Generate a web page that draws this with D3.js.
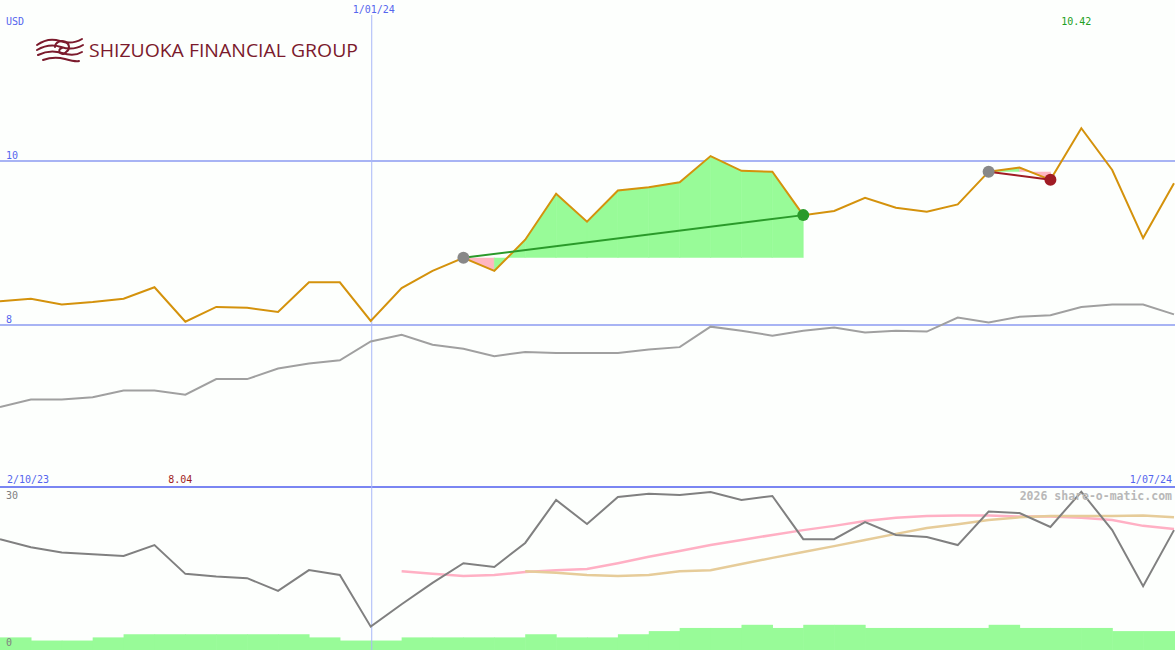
<!DOCTYPE html>
<html><head><meta charset="utf-8">
<script src="https://cdn.jsdelivr.net/npm/d3@7"></script>
<style>body{margin:0;background:#fdfffd;} svg{display:block;}</style>
</head><body><svg id="c" width="1175" height="650"></svg>
<script>
const dates = ["9/10/23","16/10/23","23/10/23","30/10/23","6/11/23","13/11/23","20/11/23","27/11/23","4/12/23","11/12/23","18/12/23","25/12/23","1/01/24","8/01/24","15/01/24","22/01/24","29/01/24","5/02/24","12/02/24","19/02/24","26/02/24","4/03/24","11/03/24","18/03/24","25/03/24","1/04/24","8/04/24","15/04/24","22/04/24","29/04/24","6/05/24","13/05/24","20/05/24","27/05/24","3/06/24","10/06/24","17/06/24","24/06/24","1/07/24"];
const price = [8.29,8.32,8.25,8.28,8.32,8.46,8.04,8.22,8.21,8.16,8.52,8.52,8.05,8.45,8.66,8.82,8.66,9.04,9.60,9.26,9.64,9.68,9.74,10.06,9.88,9.87,9.34,9.39,9.55,9.43,9.38,9.47,9.87,9.92,9.77,10.40,9.89,9.06,9.73];
const indexLine = [7.00,7.09,7.09,7.12,7.20,7.20,7.15,7.34,7.34,7.47,7.53,7.57,7.80,7.88,7.76,7.71,7.62,7.67,7.66,7.66,7.66,7.70,7.73,7.98,7.93,7.87,7.93,7.97,7.91,7.93,7.92,8.09,8.03,8.10,8.12,8.22,8.25,8.25,8.13];
const osc = [20.4,18.9,17.9,17.6,17.25,19.3,13.9,13.4,13.1,10.7,14.6,13.7,4.0,8.2,12.2,15.9,15.2,19.7,27.75,23.25,28.3,28.9,28.7,29.25,27.75,28.5,20.4,20.4,23.6,21.2,20.8,19.3,25.6,25.3,22.7,29.3,22.1,11.6,22.1];
const oscMaShort = [null,null,null,null,null,null,null,null,null,null,null,null,null,14.4,13.9,13.5,13.7,14.25,14.6,14.8,15.9,17.1,18.2,19.3,20.25,21.2,22.1,22.9,23.8,24.4,24.75,24.85,24.85,24.65,24.65,24.4,24.0,22.9,22.3];
const oscMaLong = [null,null,null,null,null,null,null,null,null,null,null,null,null,null,null,null,null,14.4,14.1,13.7,13.5,13.7,14.4,14.6,15.75,16.9,18.0,19.1,20.25,21.4,22.5,23.2,24.0,24.5,24.75,24.75,24.75,24.85,24.5];
const volume = [400,300,300,400,500,500,500,500,500,500,400,300,300,400,400,400,400,500,400,400,500,600,700,700,800,700,800,800,700,700,700,700,800,700,700,700,600,600,600];
const priceTicks = [10, 8];
const oscTicks = [30, 0];
const trades = [{start:"22/01/24", end:"8/04/24"}, {start:"20/05/24", end:"3/06/24"}];
const markerDate = "1/01/24";
const periodStart = "2/10/23", periodEnd = "1/07/24";
const minLabel = "8.04", maxLabel = "10.42";

const svg = d3.select("#c");
const W = 1175, H = 650;
svg.append("rect").attr("width",W).attr("height",H).attr("fill","#fdfffd");
const x = d3.scalePoint().domain(dates).range([0, 1174]);
const y = d3.scaleLinear().domain([8,10]).range([325,161]);
const yo = d3.scaleLinear().domain([0,30]).range([648,488]);
const yv = d3.scaleLinear().domain([0,1000]).range([650,618.5]);
const mono = "DejaVu Sans Mono, monospace";
const blue = "#5566ee";

// volume bars
const step = x.step();
svg.append("g").selectAll("rect").data(volume).join("rect")
  .attr("x",(d,i)=>x(dates[i])).attr("width",step+0.6)
  .attr("y",d=>yv(d)).attr("height",d=>yv(0)-yv(d)).attr("fill","#98fb98");

// grid
svg.append("g").selectAll("line").data(priceTicks).join("line")
  .attr("x1",0).attr("x2",W).attr("y1",d=>y(d)).attr("y2",d=>y(d))
  .attr("stroke","#a8b4f4").attr("stroke-width",2);
svg.append("line").attr("x1",0).attr("x2",W).attr("y1",487).attr("y2",487)
  .attr("stroke","#7a86f2").attr("stroke-width",2);
svg.append("line").attr("x1",x(markerDate)+1).attr("x2",x(markerDate)+1).attr("y1",15).attr("y2",H)
  .attr("stroke","#a8b8f8").attr("stroke-width",1);

// trade fills
trades.forEach(t=>{
  const s = dates.indexOf(t.start), e = dates.indexOf(t.end);
  const base = y(price[s]);
  for(let i=s;i<e;i++){
    const up = price[i+1] >= price[s];
    svg.append("path")
      .attr("d", d3.line()([[x(dates[i]),base],[x(dates[i]),y(price[i])],[x(dates[i+1]),y(price[i+1])],[x(dates[i+1]),base]]))
      .attr("fill", up ? "#98fb98" : "#ffb6c1").attr("stroke", up ? "#98fb98" : "#ffb6c1").attr("stroke-width",0.6);
  }
});

// index (gray) line
svg.append("path").datum(indexLine)
  .attr("d", d3.line().x((d,i)=>x(dates[i])).y(d=>y(d)))
  .attr("fill","none").attr("stroke","#a0a0a0").attr("stroke-width",2);

// price line
svg.append("path").datum(price)
  .attr("d", d3.line().x((d,i)=>x(dates[i])).y(d=>y(d)))
  .attr("fill","none").attr("stroke","#d4920c").attr("stroke-width",2);

// trade lines and markers
trades.forEach(t=>{
  const s = dates.indexOf(t.start), e = dates.indexOf(t.end);
  const gain = price[e] >= price[s];
  const col = gain ? "#2a9a2a" : "#a01c24";
  svg.append("line").attr("x1",x(t.start)).attr("y1",y(price[s])).attr("x2",x(t.end)).attr("y2",y(price[e]))
    .attr("stroke",col).attr("stroke-width",2);
  svg.append("circle").attr("cx",x(t.start)).attr("cy",y(price[s])).attr("r",6).attr("fill","#888888");
  svg.append("circle").attr("cx",x(t.end)).attr("cy",y(price[e])).attr("r",6).attr("fill",col);
});

// oscillator panel
const lo = d3.line().defined(d=>d!==null).x((d,i)=>x(dates[i])).y(d=>yo(d));
svg.append("path").datum(oscMaShort).attr("d",lo).attr("fill","none").attr("stroke","#ffb0c4").attr("stroke-width",2.5);
svg.append("path").datum(oscMaLong).attr("d",lo).attr("fill","none").attr("stroke","#e6cc99").attr("stroke-width",2.5);
svg.append("path").datum(osc).attr("d",lo).attr("fill","none").attr("stroke","#808080").attr("stroke-width",2);

// texts
function txt(s,xx,yy,col,anchor,size,weight){
  svg.append("text").attr("x",xx).attr("y",yy).text(s)
    .attr("fill",col).attr("font-family",mono).attr("font-size",size||10)
    .attr("text-anchor",anchor||"start").attr("font-weight",weight||"normal");
}
txt("USD",6,25,blue);
priceTicks.forEach(v=>txt(String(v),6,y(v)-2,blue));
txt(markerDate,x(markerDate)+3,13,blue,"middle");
txt(maxLabel,x(dates[price.indexOf(d3.max(price))])-5,25,"#22a022","middle");
txt(minLabel,x(dates[price.indexOf(d3.min(price))])-5,483,"#a01c1c","middle");
txt(periodStart,7,483,blue);
txt(periodEnd,1172,483,blue,"end");
oscTicks.forEach(v=>txt(String(v),6,v===0?646:499,"#808080"));
txt("2026 share-o-matic.com",1172,500,"#b8b8b8","end",11.5,"bold");

// logo
const maroon = "#7b1a2c";
const lg = svg.append("g").attr("fill","none").attr("stroke",maroon).attr("stroke-width",2).attr("stroke-linecap","round");
["M37,45 Q48,37 60,41 T82,39","M37,50 Q49,43 61,47 T83,45","M38,55 Q50,49 62,53 T82,52","M43,60 Q54,56 65,59 T79,61"].forEach(p=>lg.append("path").attr("d",p));
lg.append("path").attr("d","M55,47 a7,6 0 1,1 11,5 a3.5,3 0 1,1 -4,-4");
svg.append("text").attr("x",89).attr("y",57).text("SHIZUOKA FINANCIAL GROUP")
  .attr("fill",maroon).attr("font-family","Open Sans, Liberation Sans, sans-serif").attr("font-size",19)
  .attr("textLength",269).attr("lengthAdjust","spacingAndGlyphs");
</script></body></html>
